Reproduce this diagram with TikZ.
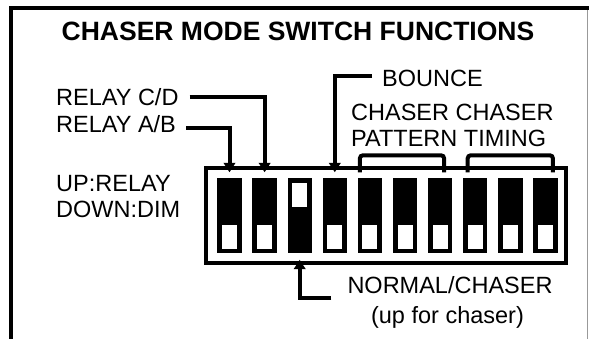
\documentclass[tikz,border=0pt]{standalone}
\usepackage{fontspec}
\setmainfont{Liberation Sans}
\usetikzlibrary{arrows.meta,calc}
\begin{document}
\begin{tikzpicture}[x=1pt,y=-1pt,
  lbl/.style={inner sep=0pt, anchor=base west, font=\fontsize{23.5}{26}\selectfont},
  conn/.style={line width=4pt, -{Triangle[width=11.5pt,length=9.5pt]}},
  brk/.style={line width=4pt, rounded corners=3pt},
  sw/.style={fill=black, minimum width=24.4pt, minimum height=74pt, inner sep=0pt},
  knob/.style={fill=white, minimum width=15pt, minimum height=24pt, inner sep=0pt}]
\useasboundingbox (0,0) rectangle (589,339);
% outer frame
\draw[line width=4pt] (10.5,339) -- (10.5,8) -- (589,8);
\draw[black!40, line width=1pt] (587.5,10) -- (587.5,339);
% title
\node[lbl, font=\bfseries\fontsize{26.5}{30}\selectfont, anchor=base] (title) at (298,40.7) {CHASER MODE SWITCH FUNCTIONS};
% labels
\node[lbl] (rcd) at (56,106) {RELAY C/D};
\node[lbl] (rab) at (56,133) {RELAY A/B};
\node[lbl] (up) at (56,192) {UP:RELAY};
\node[lbl] (down) at (56,218) {DOWN:DIM};
\node[lbl] (bounce) at (382,87) {BOUNCE};
\node[lbl] (cc) at (351,121) {CHASER CHASER};
\node[lbl] (pt) at (351,147) {PATTERN TIMING};
\node[lbl, anchor=base] (nc) at (450,293) {NORMAL/CHASER};
\node[lbl, anchor=base] (ufc) at (447.5,323) {(up for chaser)};
% switch housing
\node[draw, line width=4pt, minimum width=360pt, minimum height=95pt, inner sep=0pt] (box) at (386,215.5) {};
% switches
\foreach \i in {1,...,10} {
  \node[sw] (s\i) at ({229.5+35.1*(\i-1)},215.5) {};
}
\foreach \i in {1,2,4,5,6,7,8,9,10} {
  \node[knob] (k\i) at ($(s\i.south)+(0,-16)$) {};
}
\node[knob] (k3) at ($(s3.north)+(0,16.5)$) {};
% connectors
\draw[conn] ($(rab.east)+(10,3.5)$) -| ($(s1.north)+(0,-6)$);
\draw[conn] ($(rcd.east)+(11,-1)$) -| ($(s2.north)+(0,-6)$);
\draw[conn] ($(bounce.west)+(-10,-2.5)$) -| ($(s4.north)+(0,-6)$);
\draw[conn] ($(nc.west)+(-16,13)$) -| ($(s3.south)+(0,7)$);
% brackets
\draw[brk] ($(s5.north)+(-10,-6)$) |- ($(s7.north)+(4,-23)$) -- ($(s7.north)+(4,-6)$);
\draw[brk] ($(s8.north)+(-7.5,-6)$) |- ($(s10.north)+(7.5,-23)$) -- ($(s10.north)+(7.5,-6)$);
\end{tikzpicture}
\end{document}
